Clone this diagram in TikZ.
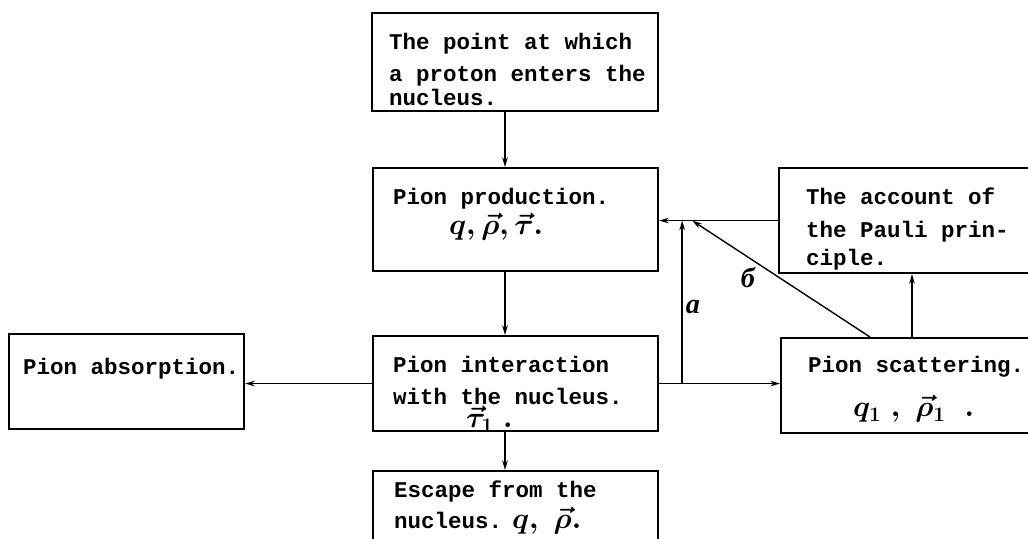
\RequirePackage{fix-cm}
\documentclass[tikz,border=0pt]{standalone}
\usepackage{amsmath}
\usepackage{fontspec}
\setmonofont{Liberation Mono}
\newfontfamily\tagfont{Liberation Serif}
\usepackage{tikz}
\usetikzlibrary{arrows.meta,calc}
% box text: width, height, left offset, top offset, lines
\newcommand\cell[5]{\parbox[c][#2][t]{#1}{\leftskip=#3\relax\vspace*{#4}#5}}
\newcommand\mathsz{\fontsize{21}{23.2}\selectfont\boldmath}
\tikzset{
  >=Stealth,
  block/.style={draw=black,line width=1.5pt,anchor=north west,inner sep=0pt,
    font=\ttfamily\bfseries\fontsize{16}{23.2}\selectfont},
  link/.style={line width=1pt,draw=black},
  flow/.style={link,-{Stealth[length=2.4mm,width=1.4mm]}},
  tag/.style={font=\tagfont\bfseries\itshape\fontsize{20}{20}\selectfont,inner sep=1pt}
}
\begin{document}
\begin{tikzpicture}[x=0.025cm,y=-0.025cm]
  \clip (0,0) rectangle (1028,539);
  % boxes
  \node[block] (enter) at (371,12) {\cell{7.15cm}{2.45cm}{0.425cm}{0.5cm}{%
    The point at which\\a proton enters the\\[-0.23cm]nucleus.}};
  \node[block] (prod) at (372,167) {\cell{7.125cm}{2.575cm}{0.5cm}{0.5cm}{%
    Pion production.\\[-0.05cm]\hspace*{1.4cm}{\mathsz$q,\vec{\rho},\vec{\tau}.$}}};
  \node[block] (pauli) at (778,167) {\cell{6.55cm}{2.625cm}{0.675cm}{0.5cm}{%
    The account of\\the Pauli prin-\\[-0.1cm]ciple.}};
  \node[block] (inter) at (372,335) {\cell{7.125cm}{2.375cm}{0.5cm}{0.5cm}{%
    Pion interaction\\with the nucleus.\\[-0.25cm]\hspace*{1.825cm}{\mathsz$\vec{\tau}_1\;.$}}};
  \node[block] (absorb) at (8,333) {\cell{5.875cm}{2.375cm}{0.35cm}{0.6cm}{%
    Pion absorption.}};
  \node[block] (scat) at (780,337) {\cell{6.5cm}{2.375cm}{0.675cm}{0.45cm}{%
    Pion scattering.\\[0.3cm]\hspace*{1.125cm}{\mathsz$q_1\;,\;\vec{\rho}_1\;\;.$}}};
  \node[block] (escape) at (372,470) {\cell{7.125cm}{2cm}{0.525cm}{0.25cm}{%
    Escape from the\\[-0.05cm]nucleus.\hspace{0.25cm}{\mathsz$q,\;\vec{\rho}.$}}};

  % connectors
  \coordinate (spine) at (505,0);
  \coordinate (ja) at ($(inter.east)+(23,0)$);
  \coordinate (jb) at ($(pauli.west -| ja)+(10,0)$);
  \draw[flow] (enter.south -| spine) -- (prod.north -| spine);
  \draw[flow] (prod.south -| spine) -- (inter.north -| spine);
  \draw[flow] (inter.south -| spine) -- (escape.north -| spine);
  \draw[flow] (inter.west) -- (inter.west -| absorb.east);
  \draw[flow] (inter.east) -- (inter.east -| scat.west);
  \draw[flow] (ja) -- (ja |- pauli.west);
  \draw[flow] (pauli.west) -- (pauli.west -| prod.east);
  \draw[flow] ($(scat.north west)+(90,0)$) -- (jb);
  \draw[flow] ($(scat.north west)+(132,0)$) -- ($(pauli.south west)+(134,0)$);

  \node[tag] (la) at (693,307) {a};
  \node[tag] (lb) at (748,278) {б};
\end{tikzpicture}
\end{document}
